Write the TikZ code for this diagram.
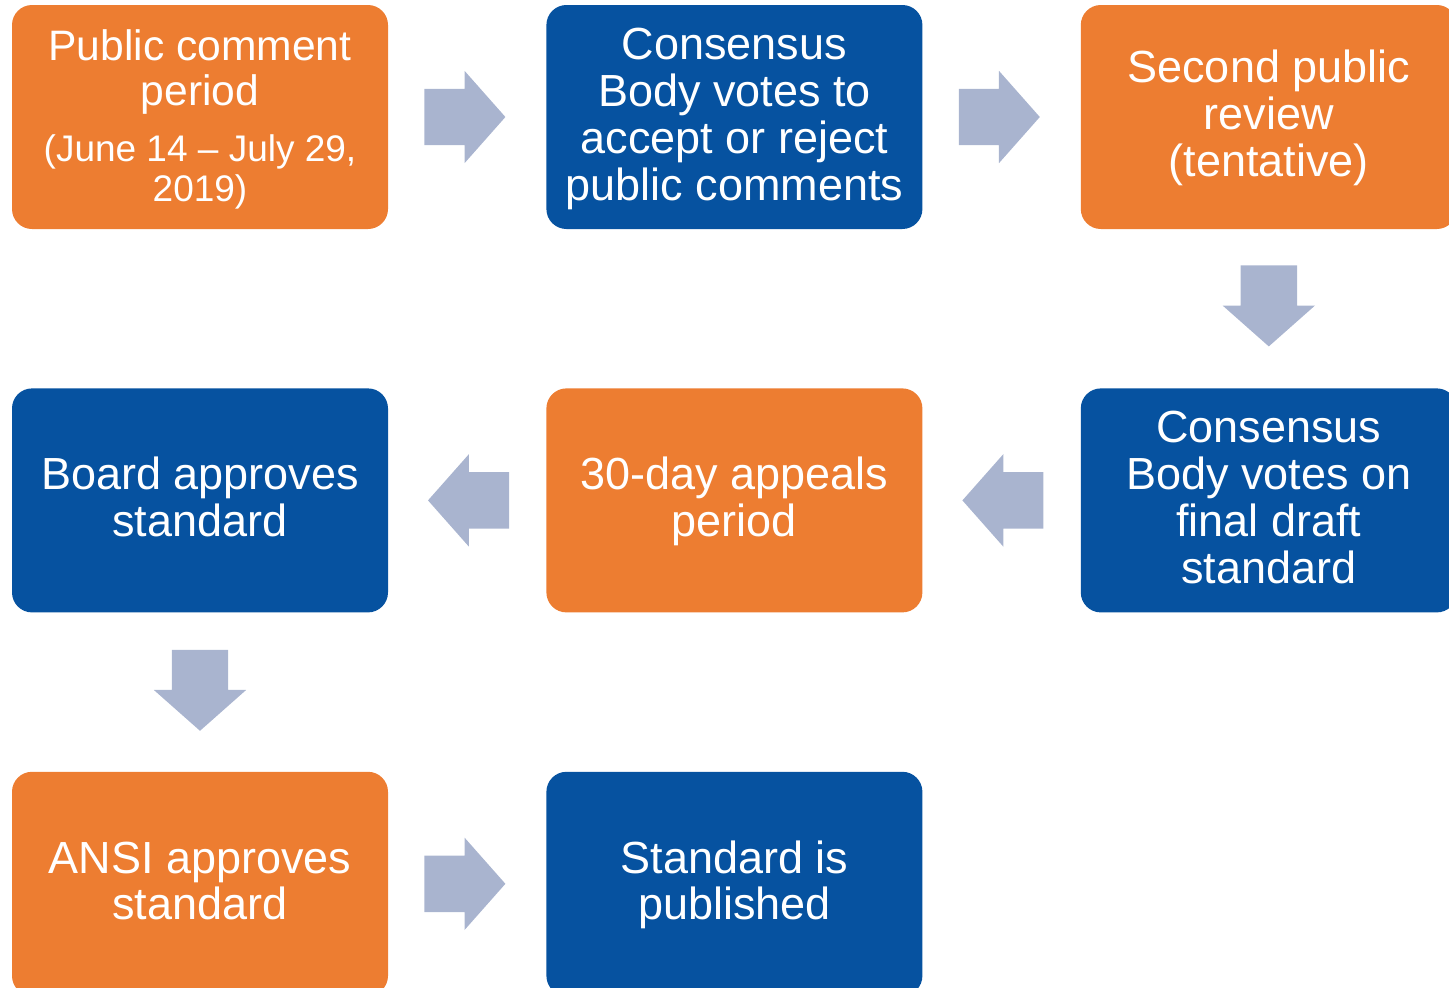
\documentclass[tikz,border=0pt]{standalone}
\usepackage{fontspec}
\setmainfont{Liberation Sans}
\usetikzlibrary{positioning}
\usetikzlibrary{calc}
\usetikzlibrary{shapes.arrows}

\definecolor{stepOrange}{HTML}{ED7D31}
\definecolor{stepBlue}{HTML}{0652A0}
\definecolor{flowGray}{HTML}{A9B4CF}

% strut so that every box is centred on its lines, not on its ink
\newcommand{\boxstrut}{\rule[-0.23\baselineskip]{0pt}{\baselineskip}}

\tikzset{
  boxbase/.style={rounded corners=20pt, minimum width=376pt, minimum height=224pt,
    text width=370pt, align=flush center, text=white, inner sep=0pt,
    font=\fontsize{45}{47}\selectfont},
  stepbox/.style={boxbase, execute at begin node=\boxstrut, execute at end node=\boxstrut},
  orangebox/.style={stepbox, fill=stepOrange},
  bluebox/.style={stepbox, fill=stepBlue},
  flow/.style={single arrow, fill=flowGray, draw=none, inner xsep=0pt, inner ysep=28pt,
    minimum height=81pt, minimum width=92pt, single arrow head extend=18pt,
    single arrow tip angle=97, anchor=tail},
}

\begin{document}
\begin{tikzpicture}[x=1pt, y=1pt]
  \useasboundingbox (0,0) rectangle (1449,-988);
  \clip (0,0) rectangle (1449,-988);

  % first row
  \node[boxbase, fill=stepOrange, font=\fontsize{42.6}{45}\selectfont] (comment) at (200,-117)
    {\rule{0pt}{37.5pt}Public comment\\period\par\vspace{16.3pt}%
    {\fontsize{37}{39.7}\selectfont (June 14 – July 29,\\2019)\rule[-9.9pt]{0pt}{9.9pt}\par}};
  \node[bluebox, right=158pt of comment] (vote) {Consensus\\Body votes to\\accept or reject\\public comments};
  \node[orangebox, right=158pt of vote] (review) {Second public\\review\\(tentative)};

  % second row
  \node[bluebox, below=159pt of review] (final) {Consensus\\Body votes on\\final draft\\standard};
  \node[orangebox, left=158pt of final] (appeals) {30-day appeals\\period};
  \node[bluebox, left=158pt of appeals] (board) {Board approves\\standard};

  % third row
  \node[orangebox, below=159pt of board] (ansi) {ANSI approves\\standard};
  \node[bluebox, right=158pt of ansi] (publish) {Standard is\\published};

  % block arrows
  \node[flow] (f1) at ([xshift=36pt]comment.east) {};
  \node[flow] (f2) at ([xshift=36pt]vote.east) {};
  \node[flow, rotate=-90] (f3) at ([yshift=-36pt]review.south) {};
  \node[flow, rotate=180] (f4) at ([xshift=-37pt]final.west) {};
  \node[flow, rotate=180] (f5) at ([xshift=-37pt]appeals.west) {};
  \node[flow, rotate=-90] (f6) at ([yshift=-37pt]board.south) {};
  \node[flow] (f7) at ([xshift=36pt]ansi.east) {};
\end{tikzpicture}
\end{document}
